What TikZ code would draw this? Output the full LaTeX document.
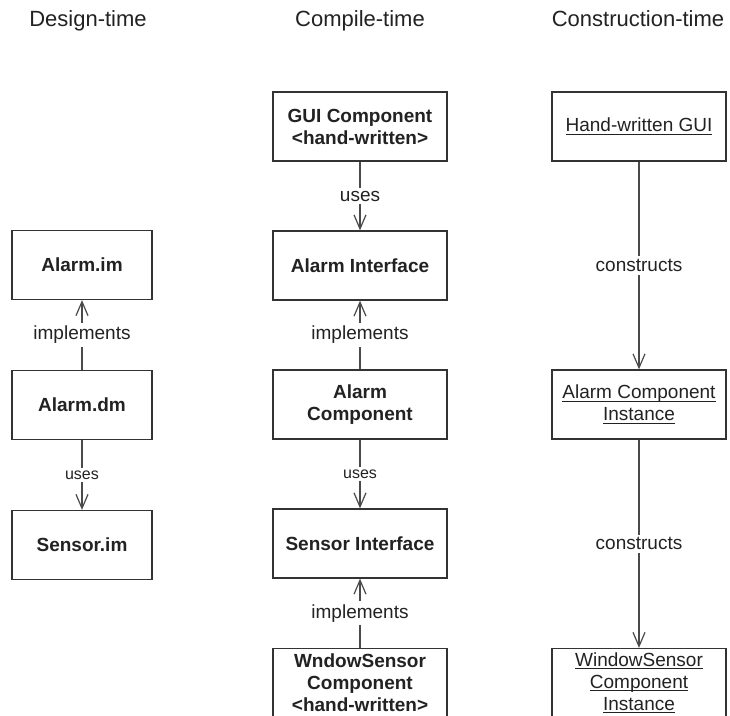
\documentclass[tikz,border=0pt]{standalone}
\usepackage{fontspec}
\setmainfont{Liberation Sans}
\usetikzlibrary{arrows.meta}
\definecolor{ink}{HTML}{222222}
\definecolor{edgecol}{HTML}{4A4A4A}
\definecolor{framecol}{HTML}{333333}
\newcommand\ulin[1]{\setbox0=\hbox{#1}\makebox[0pt][l]{\rule[-3pt]{\wd0}{1.1pt}}\box0}
\begin{document}
\begin{tikzpicture}[x=1pt,y=-1pt,
  box/.style={draw=framecol, line width=1.3pt, fill=white, text=ink, align=center,
    inner sep=2pt, minimum height=69pt, font=\fontsize{19}{22}\selectfont\bfseries},
  lbox/.style={box, minimum width=140pt},
  mbox/.style={box, minimum width=174pt},
  rbox/.style={box, minimum width=174pt, font=\fontsize{19}{22}\selectfont},
  head/.style={text=ink, anchor=base, inner sep=0pt, font=\fontsize{22}{26}\selectfont},
  lab/.style={fill=white, text=ink, inner sep=3pt, font=\fontsize{19}{22}\selectfont},
  labs/.style={fill=white, text=ink, inner sep=3pt, font=\fontsize{16}{19}\selectfont},
  dep/.style={draw=edgecol, line width=1.2pt, -{Straight Barb[length=14pt,width=12pt,line width=1.2pt]}}]
\useasboundingbox (0,0) rectangle (730,715);
\fill[white] (0,0) rectangle (730,715);
\clip (0,0) rectangle (730,715);

\node[head] (h1) at (88,26) {Design-time};
\node[head] (h2) at (360,26) {Compile-time};
\node[head] (h3) at (638,26) {Construction-time};

% left column
\node[lbox] (im) at (82,265) {Alarm.im};
\node[lbox] (dm) at (82,405) {Alarm.dm};
\node[lbox] (sim) at (82,545) {Sensor.im};

% middle column
\node[mbox] (gui) at (360,126.5) {GUI Component\\<hand-written>};
\node[mbox] (ai) at (360,265.5) {Alarm Interface};
\node[mbox] (ac) at (360,404.5) {Alarm\\Component};
\node[mbox] (si) at (360,543.5) {Sensor Interface};
\node[mbox] (ws) at (360,683) {WndowSensor\\Component\\<hand-written>};

% right column
\node[rbox] (hg) at (639,126.5) {\ulin{Hand-written GUI}};
\node[rbox] (aci) at (639,404.5) {\ulin{Alarm Component}\\\ulin{Instance}};
\node[rbox] (wsi) at (639,683) {\ulin{WindowSensor}\\\ulin{Component}\\\ulin{Instance}};

% connectors
\draw[dep] (dm) -- node[lab]{implements} (im);
\draw[dep] (dm) -- node[labs]{uses} (sim);
\draw[dep] (gui) -- node[lab]{uses} (ai);
\draw[dep] (ac) -- node[lab]{implements} (ai);
\draw[dep] (ac) -- node[labs]{uses} (si);
\draw[dep] (ws) -- node[lab]{implements} (si);
\draw[dep] (hg) -- node[lab]{constructs} (aci);
\draw[dep] (aci) -- node[lab]{constructs} (wsi);
\end{tikzpicture}
\end{document}
